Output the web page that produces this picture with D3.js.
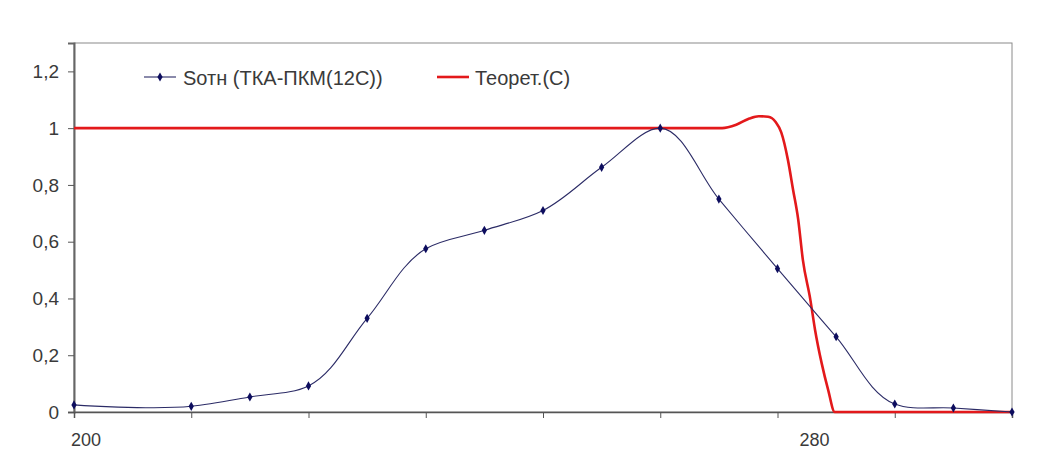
<!DOCTYPE html>
<html>
<head>
<meta charset="utf-8">
<script src="https://cdn.jsdelivr.net/npm/d3@7"></script>
<style>
  body { margin: 0; background: #fff; }
  text { font-family: "Liberation Sans", Arial, sans-serif; fill: #3a3a3a; }
</style>
</head>
<body>
<svg id="chart" width="1047" height="461"></svg>
<script>
// measured series (x in nm)
const sothX = [200, 212.5, 218.75, 225, 231.25, 237.5, 243.75, 250, 256.25, 262.5, 268.75, 275, 281.25, 287.5, 293.75, 300];
const sothY = [0.025, 0.02, 0.053, 0.092, 0.33, 0.575, 0.64, 0.71, 0.862, 1.0, 0.75, 0.505, 0.265, 0.028, 0.014, 0.0];

// theoretical curve
const teorX = [200, 269.1, 270.6, 272.0, 273.0, 274.0, 274.8, 275.4, 276.1, 276.65, 277.2, 277.7, 278.5, 279.0, 279.7, 280.4, 281.1, 300];
const teorY = [1.0, 1.0, 1.012, 1.034, 1.042, 1.04, 1.022, 0.985, 0.89, 0.785, 0.68, 0.537, 0.396, 0.29, 0.173, 0.078, 0.0, 0.0];

const yTicks = [0, 0.2, 0.4, 0.6, 0.8, 1, 1.2];
const xTicks = [200, 212.5, 225, 237.5, 250, 262.5, 275, 287.5, 300];
const xLabels = [200, 280];
const seriesNames = ["Sотн (ТКА-ПКМ(12С))", "Теорет.(С)"];

const mLeft = 74, mRight = 1012, mTop = 43, mBottom = 412;
const svg = d3.select("#chart");

const x = d3.scaleLinear().domain([200, 300]).range([mLeft, mRight]);
const y = d3.scaleLinear().domain([0, 1.3]).range([mBottom, mTop]);

// frame
svg.append("rect")
  .attr("x", mLeft).attr("y", mTop)
  .attr("width", mRight - mLeft).attr("height", mBottom - mTop)
  .attr("fill", "none").attr("stroke", "#8a8a8a").attr("stroke-width", 1);

// y axis
const yAxis = svg.append("g")
  .attr("transform", "translate(" + mLeft + ",0)")
  .call(d3.axisLeft(y).tickValues(yTicks).tickSize(6).tickPadding(9)
    .tickFormat(d => String(d).replace(".", ",")));
yAxis.select(".domain").attr("stroke", "#666").attr("stroke-width", 2);
yAxis.selectAll(".tick line").attr("stroke", "#555");
yAxis.selectAll("text").style("font-size", "19px").attr("fill", "#3a3a3a");

// x axis
const xAxis = svg.append("g")
  .attr("transform", "translate(0," + mBottom + ")")
  .call(d3.axisBottom(x).tickValues(xTicks).tickSize(6).tickFormat(""));
xAxis.select(".domain").attr("stroke", "#555").attr("stroke-width", 1.5);
xAxis.selectAll(".tick line").attr("stroke", "#555");

svg.selectAll(".xlab")
  .data(xLabels)
  .enter()
  .append("text")
  .attr("class", "xlab")
  .attr("x", function(d, i) { return i == 0 ? x(d) + 12 : x(d) - 10; })
  .attr("y", 446)
  .attr("text-anchor", "middle")
  .style("font-size", "18px")
  .text(d => d);

// theoretical line
const teor = teorX.map((d, i) => [d, teorY[i]]);
svg.append("path")
  .datum(teor)
  .attr("fill", "none")
  .attr("stroke", "#e3191b")
  .attr("stroke-width", 2.6)
  .attr("d", d3.line().x(d => x(d[0])).y(d => y(d[1])).curve(d3.curveMonotoneX));

// measured line
const soth = sothX.map((d, i) => [d, sothY[i]]);
svg.append("path")
  .datum(soth)
  .attr("fill", "none")
  .attr("stroke", "#2b2b66")
  .attr("stroke-width", 1.1)
  .attr("d", d3.line().x(d => x(d[0])).y(d => y(d[1])).curve(d3.curveCatmullRom.alpha(1)));

const diamond = d3.symbol().type(d3.symbolDiamond).size(24);
svg.selectAll(".pt")
  .data(soth)
  .enter()
  .append("path")
  .attr("class", "pt")
  .attr("transform", d => "translate(" + x(d[0]) + "," + y(d[1]) + ")")
  .attr("d", diamond)
  .attr("fill", "#0d0d5e");

// legend
const lg = svg.append("g");
lg.append("line").attr("x1", 144).attr("x2", 176).attr("y1", 77).attr("y2", 77)
  .attr("stroke", "#2b2b66").attr("stroke-width", 1.1);
lg.append("path").attr("transform", "translate(160,77)").attr("d", diamond).attr("fill", "#0d0d5e");
lg.append("text").attr("x", 183).attr("y", 85).style("font-size", "20px").text(seriesNames[0]);
lg.append("line").attr("x1", 437).attr("x2", 469).attr("y1", 77).attr("y2", 77)
  .attr("stroke", "#e3191b").attr("stroke-width", 2.6);
lg.append("text").attr("x", 475).attr("y", 85).style("font-size", "20px").text(seriesNames[1]);
</script>
</body>
</html>
